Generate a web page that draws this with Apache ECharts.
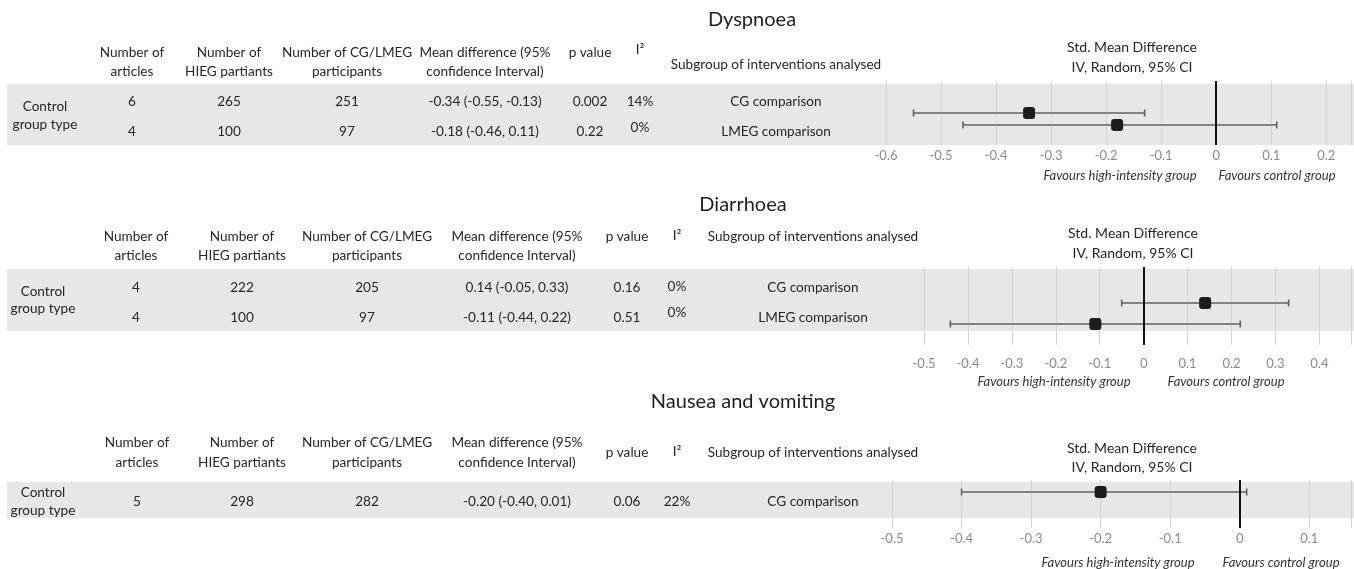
<!DOCTYPE html>
<html><head><meta charset="utf-8">
<script src="https://cdn.jsdelivr.net/npm/echarts@6/dist/echarts.min.js"></script>
<style>html,body{margin:0;padding:0;background:#fff}#c{width:1354px;height:569px}</style>
</head><body><div id="c"></div>
<script>
// ---------------- DATA ----------------
const panelTitles = ['Dyspnoea', 'Diarrhoea', 'Nausea and vomiting'];
const headerLabels = ['Number of\narticles', 'Number of\nHIEG partiants', 'Number of CG/LMEG\nparticipants',
  'Mean difference (95%\nconfidence Interval)', 'p value', 'I²', 'Subgroup of interventions analysed'];
const rowGroupLabel = 'Control\ngroup type';
const plotHeader = 'Std. Mean Difference\nIV, Random, 95% CI';
const favoursLeft = 'Favours high-intensity group';
const favoursRight = 'Favours control group';

const dysArticles = [6, 4];
const dysHieg = [265, 100];
const dysCtrl = [251, 97];
const dysMean = [-0.34, -0.18];
const dysLow = [-0.55, -0.46];
const dysHigh = [-0.13, 0.11];
const dysP = ['0.002', '0.22'];
const dysI2 = ['14%', '0%'];
const dysSubgroup = ['CG comparison', 'LMEG comparison'];
const dysTicks = [-0.6, -0.5, -0.4, -0.3, -0.2, -0.1, 0, 0.1, 0.2];

const diaArticles = [4, 4];
const diaHieg = [222, 100];
const diaCtrl = [205, 97];
const diaMean = [0.14, -0.11];
const diaLow = [-0.05, -0.44];
const diaHigh = [0.33, 0.22];
const diaP = ['0.16', '0.51'];
const diaI2 = ['0%', '0%'];
const diaSubgroup = ['CG comparison', 'LMEG comparison'];
const diaTicks = [-0.5, -0.4, -0.3, -0.2, -0.1, 0, 0.1, 0.2, 0.3, 0.4];

const nauArticles = [5];
const nauHieg = [298];
const nauCtrl = [282];
const nauMean = [-0.20];
const nauLow = [-0.40];
const nauHigh = [0.01];
const nauP = ['0.06'];
const nauI2 = ['22%'];
const nauSubgroup = ['CG comparison'];
const nauTicks = [-0.5, -0.4, -0.3, -0.2, -0.1, 0, 0.1];

const panelData = [
  {articles: dysArticles, hieg: dysHieg, ctrl: dysCtrl, mean: dysMean, low: dysLow, high: dysHigh, p: dysP, i2: dysI2, sub: dysSubgroup, ticks: dysTicks},
  {articles: diaArticles, hieg: diaHieg, ctrl: diaCtrl, mean: diaMean, low: diaLow, high: diaHigh, p: diaP, i2: diaI2, sub: diaSubgroup, ticks: diaTicks},
  {articles: nauArticles, hieg: nauHieg, ctrl: nauCtrl, mean: nauMean, low: nauLow, high: nauHigh, p: nauP, i2: nauI2, sub: nauSubgroup, ticks: nauTicks}
];

// ---------------- LAYOUT ----------------
const layout = [
  {titleX: 752, titleY: 20, colX: [132, 229, 347, 485, 590, 640, 776], hY: [53, 72], singleY: [53, 50, 65],
   rowY: [102, 132], i2Y: [102, 128], groupX: 45, groupY: [107, 125], band: [84, 145],
   grid: {left: 886, top: 81, height: 64}, xMin: -0.6, xMax: 0.245, yMin: -1.667, yMax: 3.667, labelMargin: 4,
   phX: 1132, phY: [47, 67], favY: 176, favX: [1120, 1277]},
  {titleX: 743, titleY: 205, colX: [136, 242, 367, 517, 627, 677, 813], hY: [237, 256], singleY: [237, 236, 237],
   rowY: [288, 318], i2Y: [287, 313], groupX: 43, groupY: [292, 309], band: [269, 331],
   grid: {left: 924, top: 267, height: 78}, xMin: -0.5, xMax: 0.472, yMin: -0.714, yMax: 3, labelMargin: 12,
   phX: 1133, phY: [233, 253], favY: 382, favX: [1054, 1226]},
  {titleX: 743, titleY: 402, colX: [137, 242, 367, 517, 627, 677, 813], hY: [443, 463], singleY: [453, 452, 453],
   rowY: [502], i2Y: [502], groupX: 43, groupY: [493, 511], band: [482, 518],
   grid: {left: 892, top: 480, height: 48}, xMin: -0.5, xMax: 0.16, yMin: 0, yMax: 4, labelMargin: 4,
   phX: 1132, phY: [448, 467], favY: 563, favX: [1118, 1281]}
];

const FONT = 'Lato, "Open Sans", sans-serif';
const TXT = '#262626';
const BAND = '#e7e7e7';

function fmt(v) { return v.toFixed(2); }

const graphics = [];
function addText(text, x, y, opts) {
  opts = opts || {};
  graphics.push({type: 'text', x: x, y: y, z: 5, silent: true,
    style: {text: text, fill: opts.fill || TXT, font: (opts.style || 'normal') + ' ' + (opts.size || 13.6) + 'px ' + FONT,
      textAlign: opts.align || 'center', textVerticalAlign: 'middle'}});
}

const grids = [], xAxes = [], yAxes = [], series = [];

layout.forEach(function (L, p) {
  const D = panelData[p];
  // band
  graphics.push({type: 'rect', z: -10, silent: true, shape: {x: 7, y: L.band[0], width: 1347, height: L.band[1] - L.band[0]},
    style: {fill: BAND}});
  // title
  addText(panelTitles[p], L.titleX, L.titleY, {size: 20, fill: '#1f1f1f'});
  // headers
  headerLabels.forEach(function (h, c) {
    const lines = h.split('\n');
    if (lines.length === 2) {
      addText(lines[0], L.colX[c], L.hY[0]);
      addText(lines[1], L.colX[c], L.hY[1]);
    } else {
      addText(h, L.colX[c], L.singleY[c - 4]);
    }
  });
  // group label
  const gl = rowGroupLabel.split('\n');
  addText(gl[0], L.groupX, L.groupY[0]);
  addText(gl[1], L.groupX, L.groupY[1]);
  // rows
  D.mean.forEach(function (m, r) {
    const y = L.rowY[r];
    addText(String(D.articles[r]), L.colX[0], y);
    addText(String(D.hieg[r]), L.colX[1], y);
    addText(String(D.ctrl[r]), L.colX[2], y);
    addText(fmt(m) + ' (' + fmt(D.low[r]) + ', ' + fmt(D.high[r]) + ')', L.colX[3], y);
    addText(D.p[r], L.colX[4], y);
    addText(D.i2[r], L.colX[5], L.i2Y[r]);
    addText(D.sub[r], L.colX[6], y);
  });
  // plot headers
  const ph = plotHeader.split('\n');
  addText(ph[0], L.phX, L.phY[0], {size: 14});
  addText(ph[1], L.phX, L.phY[1], {size: 14});
  addText(favoursLeft, L.favX[0], L.favY, {style: 'italic', size: 13, fill: '#333333'});
  addText(favoursRight, L.favX[1], L.favY, {style: 'italic', size: 13, fill: '#333333'});

  // chart
  grids.push({left: L.grid.left, right: 0, top: L.grid.top, height: L.grid.height, show: false});
  const ticks = D.ticks;
  xAxes.push({type: 'value', gridIndex: p, min: L.xMin, max: L.xMax, interval: 0.1,
    axisLine: {show: false}, axisTick: {show: false},
    splitLine: {show: true, lineStyle: {color: '#d4d4d4', width: 1}},
    axisLabel: {color: '#8a8a8a', fontSize: 13, fontFamily: FONT, margin: L.labelMargin,
      showMaxLabel: true, showMinLabel: true,
      formatter: function (v) {
        for (let i = 0; i < ticks.length; i++) if (Math.abs(ticks[i] - v) < 1e-6) return String(ticks[i]);
        return '';
      }}});
  yAxes.push({type: 'value', gridIndex: p, inverse: true, min: L.yMin, max: L.yMax, show: false,
    splitLine: {show: false}});
  series.push({
    type: 'custom', xAxisIndex: p, yAxisIndex: p, z: 3, silent: true,
    data: D.mean.map(function (m, r) { return [D.low[r], D.high[r], r + 1]; }),
    encode: {x: [0, 1], y: 2},
    renderItem: function (params, api) {
      const lo = api.coord([api.value(0), api.value(2)]);
      const hi = api.coord([api.value(1), api.value(2)]);
      const h = 3.5;
      const st = {stroke: '#606060', lineWidth: 1.6};
      return {type: 'group', children: [
        {type: 'line', shape: {x1: lo[0], y1: lo[1], x2: hi[0], y2: hi[1]}, style: st},
        {type: 'line', shape: {x1: lo[0], y1: lo[1] - h, x2: lo[0], y2: lo[1] + h}, style: st},
        {type: 'line', shape: {x1: hi[0], y1: hi[1] - h, x2: hi[0], y2: hi[1] + h}, style: st}
      ]};
    }
  });
  series.push({
    type: 'scatter', xAxisIndex: p, yAxisIndex: p, z: 5, silent: true,
    symbol: 'roundRect', symbolSize: 12, itemStyle: {color: '#1c1c1c', opacity: 1},
    data: D.mean.map(function (m, r) { return [m, r + 1]; }),
    markLine: {silent: true, symbol: 'none', label: {show: false}, z: 4,
      lineStyle: {color: '#111111', width: 2, type: 'solid'},
      data: [{xAxis: 0}]}
  });
});

const chart = echarts.init(document.getElementById('c'), null, {renderer: 'canvas'});
chart.setOption({
  animation: false,
  backgroundColor: '#ffffff',
  grid: grids,
  xAxis: xAxes,
  yAxis: yAxes,
  series: series,
  graphic: {elements: graphics}
});
</script>
</body></html>
